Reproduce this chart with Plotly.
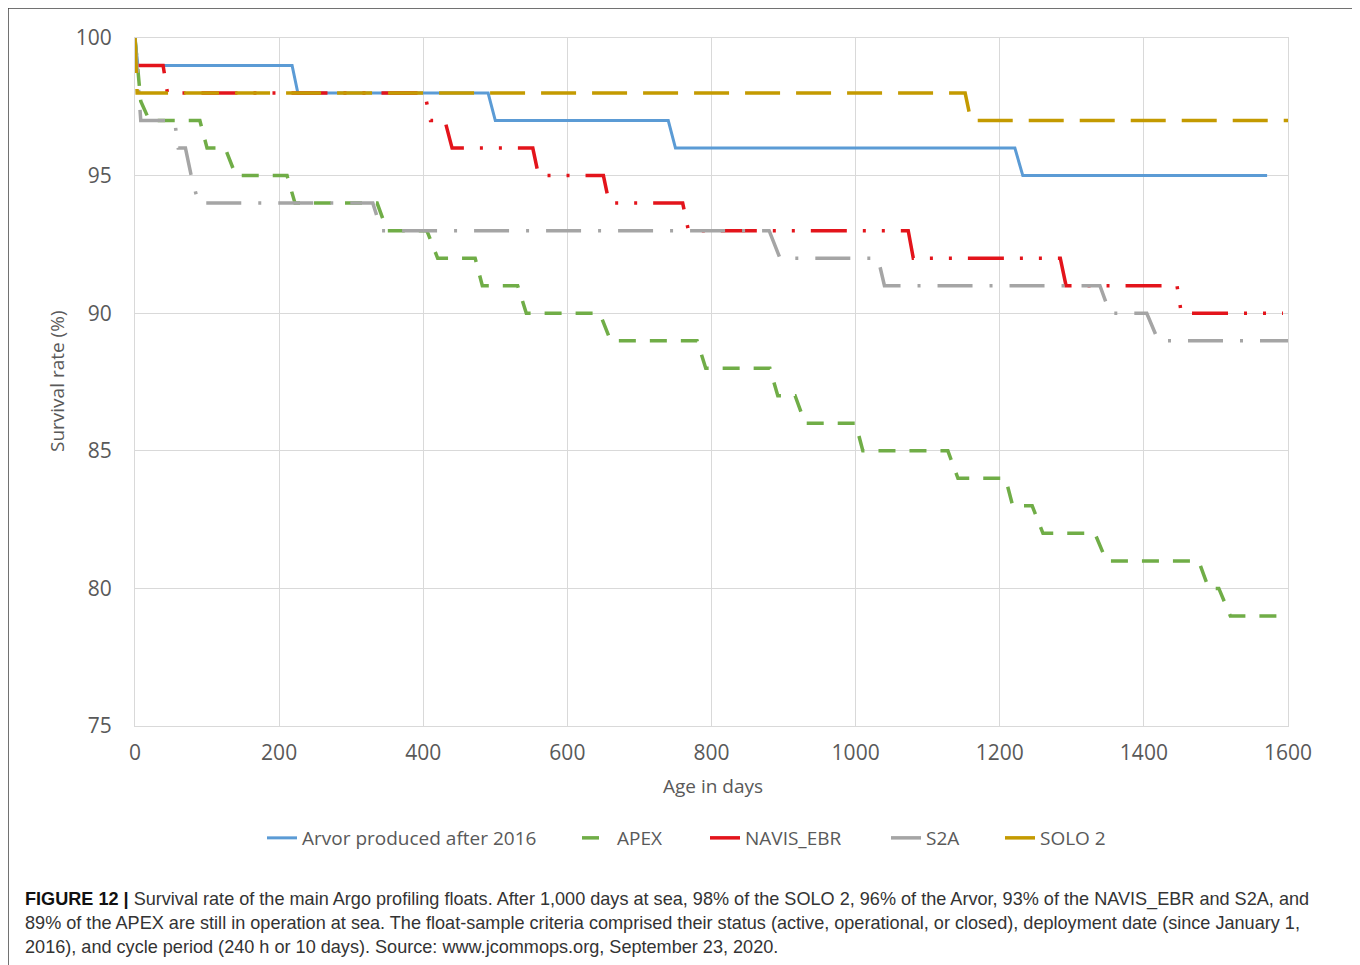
import plotly.graph_objects as go

# ---- data ----
arvor_days = [0, 4, 218, 226, 490, 500, 740, 750, 1221, 1232, 1571]
arvor_vals = [100, 99, 99, 98, 98, 97, 97, 96, 96, 95, 95]

apex_days = [0, 8, 20, 90, 100, 125, 140, 211, 222, 336, 350, 405, 420, 472, 482,
             531, 543, 645, 660, 780, 792, 881, 892, 916, 930, 1000, 1010, 1128,
             1142, 1208, 1218, 1245, 1260, 1332, 1348, 1476, 1490, 1504, 1520, 1593]
apex_vals = [100, 97.7, 97, 97, 96, 96, 95, 95, 94, 94, 93, 93, 92, 92, 91,
             91, 90, 90, 89, 89, 88, 88, 87, 87, 86, 86, 85, 85,
             84, 84, 83, 83, 82, 82, 81, 81, 80, 80, 79, 79]

navis_days = [0, 39, 45, 402, 410, 430, 440, 552, 560, 650, 658, 760, 768,
              1073, 1080, 1284, 1292, 1446, 1452, 1593]
navis_vals = [99, 99, 98, 98, 97, 97, 96, 96, 95, 95, 94, 94, 93,
              93, 92, 92, 91, 91, 90, 90]

s2a_days = [0, 8, 55, 60, 70, 78, 88, 330, 342, 880, 895, 1031, 1040, 1339,
            1353, 1404, 1420, 1600]
s2a_vals = [100, 97, 97, 96, 96, 95, 94, 94, 93, 93, 92, 92, 91, 91,
            90, 90, 89, 89]

solo_days = [0, 3, 1152, 1160, 1600]
solo_vals = [100, 98, 98, 97, 97]

series_names = ["Arvor produced after 2016", "APEX", "NAVIS_EBR", "S2A", "SOLO 2"]

x_ticks = [0, 200, 400, 600, 800, 1000, 1200, 1400, 1600]
y_ticks = [75, 80, 85, 90, 95, 100]

# page body has an 8px margin: work in screen pixels and convert
OFF = 8
W, H = 1352, 957
SL, SR, ST, SB = 135, 1288, 38, 726          # plot area in screen pixels
L, T = SL - OFF, ST - OFF
R = W - (SR - OFF)
B = H - (SB - OFF)
PW, PH = SR - SL, SB - ST


def px(xs):
    return (xs - SL) / PW


def py(ys):
    return (SB - ys) / PH


styles = [
    dict(color="#5B9BD5", width=3),
    dict(color="#70AD47", width=3.5, dash="17px,14px"),
    dict(color="#E3141B", width=3.5, dash="36px,16px,3px,16px,3px,16px"),
    dict(color="#A5A5A5", width=3.5, dash="35px,17px,3px,17px"),
    dict(color="#C49A00", width=3.5, dash="35px,16px"),
]
data = [(arvor_days, arvor_vals), (apex_days, apex_vals), (navis_days, navis_vals),
        (s2a_days, s2a_vals), (solo_days, solo_vals)]
legend_ids = ["legend", "legend2", "legend3", "legend4", "legend5"]
legend_x = [262, 577, 705, 886, 1000]   # screen x of each legend entry

fig = go.Figure()
for (d, v), nm, st, lid in zip(data, series_names, styles, legend_ids):
    fig.add_trace(go.Scatter(x=d, y=v, mode="lines", name=nm, line=st, legend=lid))

tick_font = dict(family="Open Sans", size=21, color="#595959")
leg_font = dict(family="Open Sans", size=19, color="#595959")

layout_legends = {}
for lid, lx in zip(legend_ids, legend_x):
    layout_legends[lid] = dict(orientation="h", x=px(lx), xanchor="left", y=py(838),
                               yanchor="middle", font=leg_font, bgcolor="rgba(0,0,0,0)",
                               borderwidth=0)

fig.update_layout(
    width=W, height=H,
    margin=dict(l=L, r=R, t=T, b=B),
    paper_bgcolor="white", plot_bgcolor="white",
    font=dict(family="Open Sans", color="#595959"),
    showlegend=True,
    xaxis=dict(range=[0, 1600], tickvals=x_ticks, showgrid=True, gridcolor="#D9D9D9",
               gridwidth=1, zeroline=False, showline=True, linecolor="#D9D9D9",
               tickfont=tick_font, ticks="", ticklabelstandoff=8, mirror=True),
    yaxis=dict(range=[75, 100], tickvals=y_ticks, showgrid=True, gridcolor="#D9D9D9",
               gridwidth=1, zeroline=False, showline=True, linecolor="#D9D9D9",
               tickfont=tick_font, ticks="", ticklabelstandoff=18, mirror=True),
    **layout_legends,
)

# axis titles
fig.add_annotation(text="Age in days", xref="paper", yref="paper", x=px(713), y=py(786),
                   showarrow=False, xanchor="center", yanchor="middle",
                   font=dict(family="Open Sans", size=19, color="#595959"))
fig.add_annotation(text="Survival rate (%)", xref="paper", yref="paper", x=px(57), y=py(381),
                   showarrow=False, xanchor="center", yanchor="middle", textangle=-90,
                   font=dict(family="Open Sans", size=19, color="#595959"))

# frame
fig.add_shape(type="rect", xref="paper", yref="paper",
              x0=px(8), x1=px(1355), y0=py(990), y1=py(8),
              line=dict(color="#444444", width=1.5), fillcolor="rgba(0,0,0,0)", layer="below")

# caption
cap_font = dict(family="Liberation Sans", size=18.1, color="#333333")
cap_lines = [
    "<b style='color:#111'>FIGURE 12 |</b> Survival rate of the main Argo profiling floats. After 1,000 days at sea, 98% of the SOLO 2, 96% of the Arvor, 93% of the NAVIS_EBR and S2A, and",
    "89% of the APEX are still in operation at sea. The float-sample criteria comprised their status (active, operational, or closed), deployment date (since January 1,",
    "2016), and cycle period (240 h or 10 days). Source: www.jcommops.org, September 23, 2020.",
]
for yy, t in zip([899, 923, 947], cap_lines):
    fig.add_annotation(text=t, xref="paper", yref="paper", x=px(23), y=py(yy),
                       showarrow=False, xanchor="left", yanchor="middle", align="left",
                       font=cap_font)

fig.write_html("out.html")
